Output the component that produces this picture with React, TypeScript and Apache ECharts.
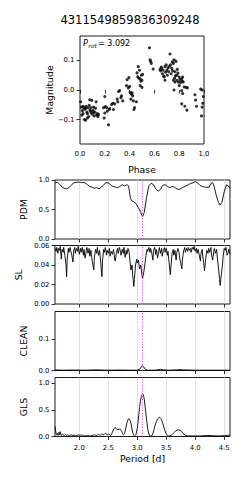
import React, { useEffect, useRef } from "react";
import * as echarts from "echarts";

const TITLE = "4311549859836309248";
const PROT = 3.092;
const phaseTicks = [0, 0.2, 0.4, 0.6, 0.8, 1.0];
const magTicks = [-0.1, 0, 0.1];
const periodTicks = [2.0, 2.5, 3.0, 3.5, 4.0, 4.5];
const pdmTicks = [0, 0.5, 1.0];
const slTicks = [0, 0.02, 0.04, 0.06];
const cleanTicks = [0, 0.1];
const glsTicks = [0, 0.5, 1.0];

const phaseMag: [number, number][] = [
  [0.005, -0.04], [0.01, -0.058], [0.015, -0.085], [0.02, -0.07], [0.025, -0.055], [0.03, -0.06],
  [0.035, -0.1], [0.04, -0.065], [0.045, -0.102], [0.05, -0.055], [0.055, -0.075], [0.06, -0.08],
  [0.065, -0.06], [0.07, -0.09], [0.075, -0.052], [0.08, -0.068], [0.085, -0.072], [0.09, -0.06],
  [0.095, -0.035], [0.1, -0.082], [0.105, -0.07], [0.11, -0.058], [0.115, -0.088], [0.12, -0.075],
  [0.125, -0.062], [0.13, -0.04], [0.135, -0.085], [0.14, -0.08], [0.145, -0.09], [0.15, -0.083],
  [0.06, -0.095], [0.09, -0.078], [0.025, -0.08], [0.11, -0.075], [0.045, -0.062], [0.078, -0.033],
  [0.19, -0.06], [0.195, -0.095], [0.2, -0.022], [0.2, -0.078], [0.205, -0.056], [0.215, -0.06],
  [0.22, -0.072], [0.23, -0.118], [0.235, -0.066], [0.24, -0.063], [0.255, -0.049], [0.265, -0.045],
  [0.27, -0.066], [0.28, -0.047], [0.3, -0.031], [0.305, -0.04], [0.31, -0.005], [0.32, -0.002],
  [0.33, -0.026], [0.345, -0.037], [0.335, -0.02],
  [0.375, 0.015], [0.38, 0.035], [0.39, 0.007], [0.395, 0.042], [0.4, 0.012], [0.405, -0.008],
  [0.41, -0.031], [0.415, -0.014], [0.42, -0.01], [0.425, -0.02], [0.43, -0.037], [0.435, -0.066],
  [0.44, -0.06], [0.455, -0.04],
  [0.46, 0.058], [0.465, 0.045], [0.47, 0.079], [0.475, 0.04], [0.48, 0.067], [0.485, 0.038],
  [0.485, 0.015], [0.49, 0.03], [0.495, 0.05], [0.5, 0.033], [0.5, 0.009], [0.505, 0.053],
  [0.56, 0.143], [0.565, 0.102], [0.57, 0.097], [0.575, 0.09], [0.59, 0.071],
  [0.645, 0.07], [0.65, 0.065], [0.655, 0.078], [0.66, 0.073], [0.665, 0.055], [0.67, 0.067],
  [0.675, 0.047], [0.68, 0.044], [0.685, 0.079], [0.685, 0.033], [0.69, 0.06], [0.695, 0.085],
  [0.7, 0.067], [0.705, 0.05], [0.71, 0.075], [0.715, 0.062], [0.72, 0.08], [0.726, 0.122],
  [0.73, 0.085], [0.735, 0.055], [0.74, 0.073], [0.745, 0.095], [0.747, 0.065], [0.753, 0.09],
  [0.753, 0.033], [0.758, 0.102], [0.758, 0.0], [0.762, 0.04], [0.766, 0.062], [0.766, 0.027],
  [0.77, 0.048], [0.774, 0.097], [0.78, 0.05], [0.78, 0.033], [0.785, 0.07], [0.79, 0.057],
  [0.793, 0.027], [0.8, 0.044], [0.8, 0.015], [0.805, 0.035], [0.81, 0.025], [0.82, 0.038],
  [0.82, -0.002], [0.825, 0.03], [0.828, 0.044], [0.828, -0.012], [0.833, 0.027], [0.84, 0.01],
  [0.855, 0.009], [0.866, 0.007],
  [0.82, -0.047], [0.845, -0.055], [0.862, -0.068],
  [0.927, -0.016], [0.932, -0.034], [0.94, -0.055], [0.973, 0.003], [0.985, 0.0], [0.995, -0.022],
  [0.99, -0.045], [0.985, -0.058], [0.98, -0.088],
];

const pdm: [number, number][] = [
  [1.58, 0.95], [1.62, 0.96], [1.66, 0.93], [1.7, 0.88], [1.74, 0.86], [1.78, 0.85], [1.82, 0.87],
  [1.86, 0.91], [1.9, 0.95], [1.94, 0.96], [1.98, 0.965], [2.02, 0.96], [2.06, 0.96], [2.1, 0.95],
  [2.14, 0.92], [2.18, 0.89], [2.22, 0.88], [2.26, 0.86], [2.3, 0.87], [2.34, 0.85], [2.38, 0.88],
  [2.42, 0.92], [2.46, 0.955], [2.5, 0.95], [2.54, 0.92], [2.58, 0.89], [2.62, 0.88], [2.66, 0.87],
  [2.7, 0.89], [2.74, 0.92], [2.78, 0.9], [2.82, 0.92], [2.85, 0.9], [2.88, 0.7], [2.9, 0.65],
  [2.94, 0.63], [2.98, 0.6], [3.02, 0.53], [3.06, 0.45], [3.09, 0.375], [3.12, 0.45], [3.16, 0.7],
  [3.2, 0.9], [3.24, 0.945], [3.28, 0.92], [3.32, 0.85], [3.36, 0.81], [3.4, 0.84], [3.44, 0.91],
  [3.48, 0.92], [3.52, 0.89], [3.56, 0.87], [3.6, 0.89], [3.64, 0.88], [3.68, 0.85], [3.72, 0.84],
  [3.76, 0.86], [3.8, 0.88], [3.84, 0.9], [3.88, 0.92], [3.92, 0.94], [3.96, 0.95], [4.0, 0.975],
  [4.04, 0.95], [4.08, 0.91], [4.12, 0.89], [4.16, 0.88], [4.2, 0.875], [4.24, 0.88], [4.28, 0.95],
  [4.3, 0.96], [4.33, 0.88], [4.36, 0.75], [4.4, 0.62], [4.43, 0.575], [4.46, 0.62], [4.5, 0.8],
  [4.54, 0.92], [4.57, 0.9], [4.6, 0.86],
];

const sl: [number, number][] = [
  [1.58, 0.057], [1.6, 0.054], [1.61, 0.058], [1.63, 0.052], [1.64, 0.057], [1.66, 0.055], [1.67, 0.059],
  [1.69, 0.046], [1.7, 0.056], [1.72, 0.053], [1.73, 0.058], [1.75, 0.05], [1.77, 0.04], [1.78, 0.028],
  [1.79, 0.045], [1.81, 0.057], [1.82, 0.053], [1.84, 0.058], [1.85, 0.055], [1.87, 0.05], [1.89, 0.043],
  [1.9, 0.054], [1.92, 0.058], [1.93, 0.052], [1.95, 0.057], [1.97, 0.054], [1.98, 0.059], [2.0, 0.051],
  [2.02, 0.057], [2.03, 0.053], [2.05, 0.058], [2.07, 0.05], [2.08, 0.056], [2.1, 0.047], [2.12, 0.055],
  [2.13, 0.058], [2.15, 0.052], [2.17, 0.057], [2.18, 0.049], [2.2, 0.055], [2.22, 0.045], [2.24, 0.038],
  [2.25, 0.035], [2.26, 0.048], [2.28, 0.056], [2.3, 0.052], [2.31, 0.058], [2.33, 0.05], [2.35, 0.055],
  [2.37, 0.042], [2.39, 0.028], [2.4, 0.044], [2.42, 0.056], [2.43, 0.053], [2.45, 0.058], [2.47, 0.05],
  [2.48, 0.055], [2.5, 0.052], [2.52, 0.057], [2.53, 0.049], [2.55, 0.054], [2.57, 0.051], [2.59, 0.056],
  [2.61, 0.046], [2.62, 0.044], [2.64, 0.053], [2.66, 0.057], [2.67, 0.052], [2.69, 0.058], [2.71, 0.054],
  [2.72, 0.05], [2.74, 0.056], [2.76, 0.052], [2.77, 0.058], [2.79, 0.048], [2.81, 0.055], [2.82, 0.051],
  [2.84, 0.057], [2.86, 0.053], [2.87, 0.046], [2.89, 0.035], [2.91, 0.04], [2.92, 0.03], [2.94, 0.018],
  [2.95, 0.025], [2.97, 0.04], [2.99, 0.046], [3.0, 0.042], [3.02, 0.045], [3.04, 0.036], [3.06, 0.04],
  [3.08, 0.03], [3.09, 0.026], [3.11, 0.032], [3.13, 0.04], [3.15, 0.05], [3.17, 0.056], [3.18, 0.054],
  [3.2, 0.058], [3.22, 0.053], [3.23, 0.057], [3.25, 0.052], [3.27, 0.045], [3.28, 0.055], [3.3, 0.058],
  [3.32, 0.051], [3.33, 0.056], [3.35, 0.047], [3.37, 0.054], [3.38, 0.058], [3.4, 0.052], [3.42, 0.057],
  [3.43, 0.049], [3.45, 0.055], [3.47, 0.058], [3.48, 0.053], [3.5, 0.057], [3.52, 0.05], [3.53, 0.054],
  [3.55, 0.042], [3.57, 0.03], [3.58, 0.038], [3.6, 0.052], [3.62, 0.056], [3.63, 0.05], [3.65, 0.055],
  [3.67, 0.045], [3.68, 0.052], [3.7, 0.057], [3.72, 0.053], [3.73, 0.048], [3.75, 0.042], [3.77, 0.036],
  [3.78, 0.046], [3.8, 0.055], [3.82, 0.058], [3.83, 0.053], [3.85, 0.057], [3.87, 0.054], [3.88, 0.058],
  [3.9, 0.055], [3.92, 0.057], [3.93, 0.053], [3.95, 0.058], [3.97, 0.056], [3.98, 0.059], [4.0, 0.054],
  [4.02, 0.057], [4.03, 0.052], [4.05, 0.056], [4.07, 0.05], [4.09, 0.044], [4.1, 0.052], [4.12, 0.056],
  [4.13, 0.049], [4.15, 0.04], [4.16, 0.034], [4.18, 0.046], [4.2, 0.055], [4.22, 0.052], [4.23, 0.057],
  [4.25, 0.053], [4.27, 0.058], [4.28, 0.051], [4.3, 0.045], [4.32, 0.054], [4.33, 0.057], [4.35, 0.052],
  [4.37, 0.056], [4.38, 0.048], [4.4, 0.038], [4.42, 0.025], [4.43, 0.019], [4.45, 0.03], [4.47, 0.04],
  [4.48, 0.048], [4.5, 0.057], [4.52, 0.055], [4.53, 0.058], [4.55, 0.05], [4.57, 0.053], [4.58, 0.056],
  [4.6, 0.051],
];

const clean: [number, number][] = [
  [1.58, 0.002], [1.7, 0.001], [1.9, 0.0015], [2.1, 0.001], [2.3, 0.002], [2.5, 0.001], [2.7, 0.0015],
  [2.9, 0.001], [3.0, 0.001], [3.04, 0.004], [3.07, 0.012], [3.092, 0.015], [3.11, 0.012], [3.14, 0.003],
  [3.18, 0.001], [3.32, 0.001], [3.37, 0.003], [3.4, 0.004], [3.45, 0.002], [3.55, 0.001], [3.68, 0.002],
  [3.74, 0.003], [3.8, 0.002], [4.0, 0.001], [4.3, 0.001], [4.6, 0.001],
];

const gls: [number, number][] = [
  [1.58, 0.19], [1.59, 0.12], [1.6, 0.05], [1.61, 0.03], [1.62, 0.06], [1.63, 0.02], [1.64, 0.04],
  [1.65, 0.08], [1.66, 0.03], [1.67, 0.09], [1.68, 0.04], [1.69, 0.02], [1.7, 0.05], [1.72, 0.03],
  [1.74, 0.02], [1.76, 0.04], [1.78, 0.02], [1.8, 0.03], [1.83, 0.015], [1.86, 0.03], [1.89, 0.02],
  [1.92, 0.025], [1.95, 0.015], [1.98, 0.03], [2.01, 0.02], [2.04, 0.03], [2.07, 0.015], [2.1, 0.01],
  [2.14, 0.02], [2.18, 0.01], [2.22, 0.02], [2.26, 0.03], [2.3, 0.02], [2.33, 0.04], [2.36, 0.02],
  [2.39, 0.05], [2.42, 0.03], [2.45, 0.06], [2.48, 0.03], [2.51, 0.05], [2.54, 0.02], [2.57, 0.08],
  [2.6, 0.15], [2.62, 0.17], [2.64, 0.14], [2.67, 0.13], [2.7, 0.14], [2.73, 0.1], [2.76, 0.03],
  [2.79, 0.1], [2.82, 0.25], [2.855, 0.34], [2.89, 0.25], [2.92, 0.08], [2.95, 0.01], [2.98, 0.05],
  [3.01, 0.25], [3.04, 0.55], [3.07, 0.76], [3.095, 0.8], [3.12, 0.7], [3.15, 0.42], [3.18, 0.15],
  [3.21, 0.02], [3.24, 0.01], [3.27, 0.06], [3.3, 0.18], [3.34, 0.31], [3.385, 0.36], [3.42, 0.31],
  [3.46, 0.17], [3.5, 0.05], [3.54, 0.01], [3.58, 0.02], [3.62, 0.06], [3.66, 0.1], [3.71, 0.125],
  [3.76, 0.1], [3.8, 0.05], [3.84, 0.015], [3.9, 0.01], [4.0, 0.01], [4.1, 0.01], [4.2, 0.02],
  [4.3, 0.015], [4.4, 0.01], [4.5, 0.015], [4.6, 0.025],
];

const FONT = "DejaVu Sans";
const TICK_FS = 6.9;
const LABEL_FS = 9.3;
const MAGENTA = "#e84ae8";

function periodXAxis(gridIndex: number, showLabels: boolean) {
  return {
    type: "value",
    gridIndex,
    min: 1.58,
    max: 4.6,
    axisLine: { show: false },
    axisTick: { show: true, inside: false, length: 3.5, customValues: periodTicks, lineStyle: { color: "#000", width: 0.8 } },
    axisLabel: {
      show: showLabels,
      customValues: periodTicks,
      formatter: (v: number) => v.toFixed(1),
      fontSize: TICK_FS,
      fontFamily: FONT,
      color: "#000",
      margin: 8,
    },
    splitLine: { show: true, lineStyle: { color: "#d9d9d9", width: 0.8 } },
    name: showLabels ? "Period [d]" : "",
    nameLocation: "middle",
    nameGap: 17,
    nameTextStyle: { fontSize: LABEL_FS, fontFamily: FONT, color: "#000" },
  };
}

function valueYAxis(gridIndex: number, min: number, max: number, ticks: number[], digits: number, name: string, nameGap: number) {
  return {
    type: "value",
    gridIndex,
    min,
    max,
    axisLine: { show: false },
    axisTick: { show: true, inside: false, length: 3.5, customValues: ticks, lineStyle: { color: "#000", width: 0.8 } },
    axisLabel: {
      customValues: ticks,
      formatter: (v: number) => (v < 0 ? "\u2212" + Math.abs(v).toFixed(digits) : v.toFixed(digits)),
      fontSize: TICK_FS,
      fontFamily: FONT,
      color: "#000",
      margin: 5.5,
    },
    splitLine: { show: false },
    name,
    nameLocation: "middle",
    nameGap,
    nameTextStyle: { fontSize: LABEL_FS, fontFamily: FONT, color: "#000" },
  };
}

const magentaLine = {
  silent: true,
  symbol: "none",
  label: { show: false },
  lineStyle: { color: MAGENTA, type: [1.2, 1.6], width: 1 },
  data: [{ xAxis: PROT }],
};

function lineSeries(idx: number, data: [number, number][], smooth: boolean | number) {
  return {
    type: "line",
    xAxisIndex: idx,
    yAxisIndex: idx,
    data,
    showSymbol: false,
    smooth,
    lineStyle: { color: "#000", width: 0.9 },
    markLine: magentaLine,
    z: 3,
  };
}

export default function App() {
  const ref = useRef<HTMLDivElement>(null);
  useEffect(() => {
    if (!ref.current) return;
    const chart = echarts.init(ref.current, undefined, { renderer: "svg" });
    const gridStyle = { show: true, borderColor: "#000", borderWidth: 0.9, backgroundColor: "transparent", containLabel: false };
    chart.setOption({
      animation: false,
      backgroundColor: "#fff",
      grid: [
        { ...gridStyle, left: 80, top: 36, width: 124, height: 108 },
        { ...gridStyle, left: 55, top: 180, width: 175, height: 59 },
        { ...gridStyle, left: 55, top: 245.5, width: 175, height: 58.5 },
        { ...gridStyle, left: 55, top: 311.5, width: 175, height: 59 },
        { ...gridStyle, left: 55, top: 377.5, width: 175, height: 59 },
      ],
      xAxis: [
        {
          type: "value",
          gridIndex: 0,
          min: 0,
          max: 1,
          axisLine: { show: false },
          axisTick: { show: true, inside: false, length: 3.5, customValues: phaseTicks, lineStyle: { color: "#000", width: 0.8 } },
          axisLabel: {
            customValues: phaseTicks,
            formatter: (v: number) => v.toFixed(1),
            fontSize: TICK_FS,
            fontFamily: FONT,
            color: "#000",
            margin: 6,
          },
          splitLine: { show: false },
          name: "Phase",
          nameLocation: "middle",
          nameGap: 21,
          nameTextStyle: { fontSize: LABEL_FS, fontFamily: FONT, color: "#000" },
        },
        periodXAxis(1, false),
        periodXAxis(2, false),
        periodXAxis(3, false),
        periodXAxis(4, true),
      ],
      yAxis: [
        valueYAxis(0, -0.183, 0.183, magTicks, 1, "Magnitude", 26),
        valueYAxis(1, 0, 1, pdmTicks, 1, "PDM", 23),
        valueYAxis(2, 0, 0.06, slTicks, 2, "SL", 26),
        valueYAxis(3, 0, 0.19, cleanTicks, 1, "CLEAN", 23),
        valueYAxis(4, 0, 1.11, glsTicks, 1, "GLS", 23),
      ],
      series: [
        {
          type: "scatter",
          xAxisIndex: 0,
          yAxisIndex: 0,
          data: phaseMag,
          symbolSize: 3.1,
          itemStyle: { color: "#000" },
        },
        lineSeries(1, pdm, false),
        lineSeries(2, sl, false),
        lineSeries(3, clean, false),
        lineSeries(4, gls, 0.35),
      ],
      graphic: [
        {
          type: "text",
          x: 130,
          y: 20,
          style: { text: TITLE, fontSize: 11.5, fontFamily: FONT, fill: "#000", textAlign: "center", textVerticalAlign: "middle" },
        },
        {
          type: "text",
          x: 83,
          y: 43,
          style: { text: "P", fontSize: 8, fontStyle: "italic", fontFamily: FONT, fill: "#000", textVerticalAlign: "middle" },
        },
        {
          type: "text",
          x: 88.5,
          y: 46,
          style: { text: "rot", fontSize: 5.8, fontStyle: "italic", fontFamily: FONT, fill: "#000", textVerticalAlign: "middle" },
        },
        {
          type: "text",
          x: 98,
          y: 43,
          style: { text: "= 3.092", fontSize: 8, fontFamily: FONT, fill: "#000", textVerticalAlign: "middle" },
        },
      ],
    });
    return () => chart.dispose();
  }, []);
  return <div ref={ref} style={{ position: "absolute", left: 0, top: 0, width: 249, height: 480 }} />;
}
